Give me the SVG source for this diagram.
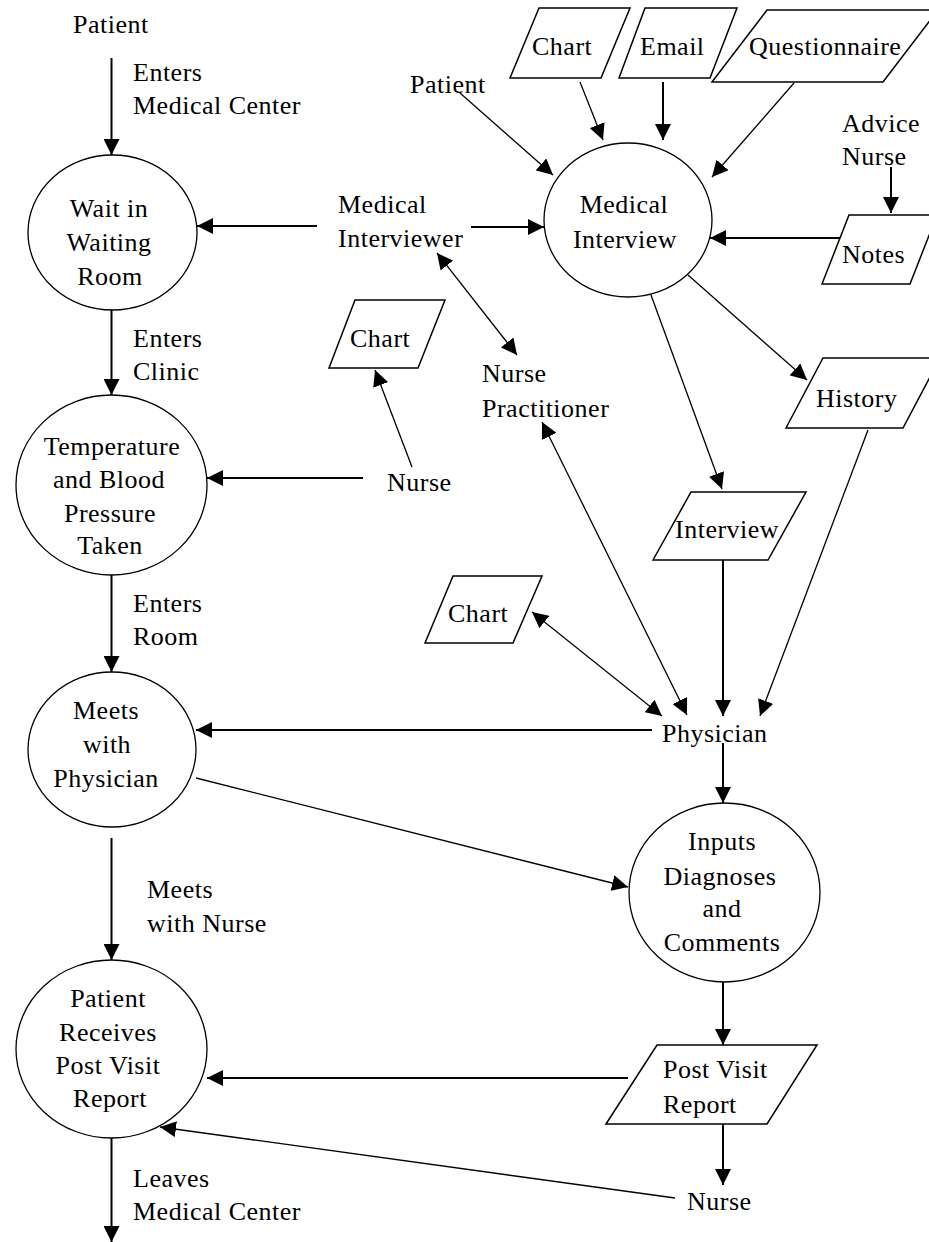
<svg xmlns="http://www.w3.org/2000/svg" width="929" height="1242" viewBox="0 0 929 1242" font-family="Liberation Serif, DejaVu Serif, serif">
  <style>
    text { font-size: 26px; fill: #000; letter-spacing: 0.5px; }
    .mid { text-anchor: middle; }
    .proc { fill: #fff; stroke: #000; stroke-width: 1.3; }
    .store { fill: #fff; stroke: #000; stroke-width: 1.5; }
    .flow { fill: none; stroke: #000; stroke-width: 2; marker-end: url(#head); }
    .diag { fill: none; stroke: #000; stroke-width: 1.3; marker-end: url(#head); }
    .both { marker-start: url(#head); }
  </style>
  <defs>
    <marker id="head" markerUnits="userSpaceOnUse" markerWidth="17" markerHeight="16" refX="16" refY="8" orient="auto-start-reverse">
      <path d="M0,0 L16,8 L0,16 Z" fill="#000"/>
    </marker>
  </defs>

  <!-- connectors -->
  <g id="connectors">
    <line class="flow" x1="111.5" y1="58" x2="111.5" y2="155"/>
    <line class="flow" x1="317" y1="226" x2="197" y2="226"/>
    <line class="flow" x1="471" y1="227" x2="544" y2="227"/>
    <line class="flow" x1="111.5" y1="310" x2="111.5" y2="395"/>
    <line class="flow" x1="363" y1="478" x2="207" y2="478"/>
    <line class="diag" x1="412" y1="467" x2="375" y2="370"/>
    <line class="flow" x1="111.5" y1="575" x2="111.5" y2="672"/>
    <line class="flow" x1="652" y1="730" x2="196" y2="730"/>
    <line class="diag" x1="196" y1="778" x2="628" y2="887"/>
    <line class="flow" x1="111.5" y1="838" x2="111.5" y2="960"/>
    <line class="flow" x1="628" y1="1078" x2="207" y2="1078"/>
    <line class="diag" x1="675" y1="1198" x2="160" y2="1127"/>
    <line class="flow" x1="111.5" y1="1138" x2="111.5" y2="1242"/>
    <line class="flow" x1="723" y1="982" x2="723" y2="1045"/>
    <line class="flow" x1="723" y1="1124" x2="723" y2="1185"/>
    <line class="flow" x1="723" y1="743" x2="723" y2="803"/>
    <line class="flow" x1="723" y1="560" x2="723" y2="716"/>
    <line class="diag" x1="868" y1="430" x2="760" y2="716"/>
    <line class="diag both" x1="532" y1="612" x2="662" y2="716"/>
    <line class="diag both" x1="542" y1="422" x2="687" y2="715"/>
    <line class="diag both" x1="437" y1="253" x2="517" y2="355"/>
    <line class="diag" x1="651" y1="295" x2="722" y2="489"/>
    <line class="diag" x1="688" y1="275" x2="807" y2="380"/>
    <line class="diag" x1="460" y1="93" x2="553" y2="175"/>
    <line class="diag" x1="580" y1="82" x2="603" y2="140"/>
    <line class="flow" x1="663" y1="82" x2="663" y2="140"/>
    <line class="diag" x1="794" y1="83" x2="712" y2="177"/>
    <line class="flow" x1="891" y1="167" x2="891" y2="213"/>
    <line class="flow" x1="840" y1="238" x2="710" y2="238"/>
  </g>

  <!-- free labels on the flows -->
  <g id="patient-entry">
    <text x="73" y="33">Patient</text>
  </g>
  <g id="label-enters-center">
    <text x="133" y="81">Enters</text>
    <text x="133" y="114">Medical Center</text>
  </g>
  <g id="label-enters-clinic">
    <text x="133" y="347">Enters</text>
    <text x="133" y="380">Clinic</text>
  </g>
  <g id="label-enters-room">
    <text x="133" y="612">Enters</text>
    <text x="133" y="645">Room</text>
  </g>
  <g id="label-meets-nurse">
    <text x="147" y="898">Meets</text>
    <text x="147" y="932">with Nurse</text>
  </g>
  <g id="label-leaves">
    <text x="133" y="1187">Leaves</text>
    <text x="133" y="1220">Medical Center</text>
  </g>

  <!-- processes -->
  <g id="wait-room">
    <ellipse class="proc" cx="112.5" cy="232.5" rx="84.5" ry="77.5"/>
    <text class="mid" x="109" y="217">Wait in</text>
    <text class="mid" x="109" y="251">Waiting</text>
    <text class="mid" x="110" y="285">Room</text>
  </g>
  <g id="vitals">
    <ellipse class="proc" cx="111.5" cy="485" rx="95.5" ry="90"/>
    <text class="mid" x="112" y="455">Temperature</text>
    <text class="mid" x="109" y="488">and Blood</text>
    <text class="mid" x="110" y="522">Pressure</text>
    <text class="mid" x="110" y="554">Taken</text>
  </g>
  <g id="meets-physician">
    <ellipse class="proc" cx="112" cy="749.5" rx="84" ry="77.5"/>
    <text class="mid" x="106" y="719">Meets</text>
    <text class="mid" x="107" y="753">with</text>
    <text class="mid" x="106" y="787">Physician</text>
  </g>
  <g id="receives-report">
    <ellipse class="proc" cx="111.5" cy="1049" rx="95.5" ry="89"/>
    <text class="mid" x="108" y="1007">Patient</text>
    <text class="mid" x="108" y="1041">Receives</text>
    <text class="mid" x="108" y="1074">Post Visit</text>
    <text class="mid" x="110" y="1107">Report</text>
  </g>
  <g id="medical-interview">
    <ellipse class="proc" cx="628" cy="220" rx="84" ry="77"/>
    <text class="mid" x="624" y="213">Medical</text>
    <text class="mid" x="625" y="248">Interview</text>
  </g>
  <g id="inputs-diagnoses">
    <ellipse class="proc" cx="724.5" cy="892.5" rx="95.5" ry="89.5"/>
    <text class="mid" x="722" y="850">Inputs</text>
    <text class="mid" x="720" y="885">Diagnoses</text>
    <text class="mid" x="722" y="917">and</text>
    <text class="mid" x="722" y="951">Comments</text>
  </g>

  <!-- data stores -->
  <g id="chart-top">
    <polygon class="store" points="510,78 539,8 630,8 601,78"/>
    <text x="532" y="55">Chart</text>
  </g>
  <g id="email">
    <polygon class="store" points="619,78 645,8 737,8 710,78"/>
    <text x="640" y="55">Email</text>
  </g>
  <g id="questionnaire">
    <polygon class="store" points="712,82 767,10 938,10 883,82"/>
    <text x="749" y="55">Questionnaire</text>
  </g>
  <g id="notes">
    <polygon class="store" points="822,284 849,215 937,215 910,284"/>
    <text x="842" y="263">Notes</text>
  </g>
  <g id="chart-nurse">
    <polygon class="store" points="329,368 355,300 445,300 418,368"/>
    <text x="350" y="347">Chart</text>
  </g>
  <g id="history">
    <polygon class="store" points="786,428 823,358 940,358 903,428"/>
    <text x="816" y="407">History</text>
  </g>
  <g id="interview">
    <polygon class="store" points="653,560 691,492 806,492 768,560"/>
    <text x="675" y="538">Interview</text>
  </g>
  <g id="chart-physician">
    <polygon class="store" points="425,643 453,576 542,576 513,643"/>
    <text x="448" y="622">Chart</text>
  </g>
  <g id="post-visit-report">
    <polygon class="store" points="606,1124 657,1045 817,1045 767,1124"/>
    <text x="663" y="1078">Post Visit</text>
    <text x="663" y="1113">Report</text>
  </g>

  <!-- actors -->
  <g id="patient-interview">
    <text x="410" y="93">Patient</text>
  </g>
  <g id="advice-nurse">
    <text x="842" y="132">Advice</text>
    <text x="842" y="165">Nurse</text>
  </g>
  <g id="medical-interviewer">
    <text x="338" y="213">Medical</text>
    <text x="338" y="247">Interviewer</text>
  </g>
  <g id="nurse-practitioner">
    <text x="482" y="382">Nurse</text>
    <text x="482" y="417">Practitioner</text>
  </g>
  <g id="nurse-vitals">
    <text x="387" y="491">Nurse</text>
  </g>
  <g id="physician">
    <text x="662" y="742">Physician</text>
  </g>
  <g id="nurse-report">
    <text x="687" y="1210">Nurse</text>
  </g>
</svg>
